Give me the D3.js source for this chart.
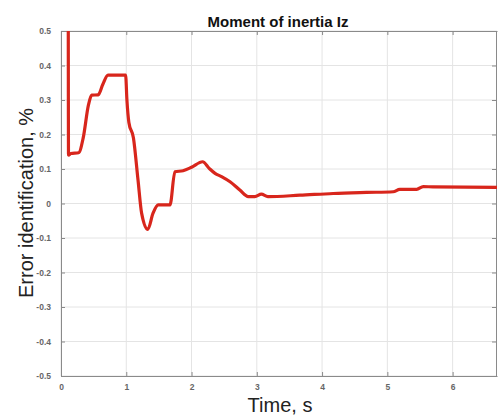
<!DOCTYPE html>
<html><head><meta charset="utf-8">
<script src="https://cdn.jsdelivr.net/npm/d3@7"></script>
<style>body{margin:0;background:#fff}svg{display:block}</style>
</head><body>
<script>
const timeValues = [0.11, 0.115, 0.15, 0.27, 0.34, 0.42, 0.47, 0.57, 0.64, 0.72, 0.99, 1.01, 1.04, 1.11, 1.18, 1.235, 1.33, 1.41, 1.49, 1.67, 1.745, 1.87, 2.0, 2.17, 2.27, 2.36, 2.46, 2.59, 2.74, 2.87, 2.97, 3.07, 3.17, 3.66, 4.17, 4.68, 5.09, 5.19, 5.45, 5.55, 5.70, 6.68];
const errorValues = [0.8, 0.14, 0.145, 0.147, 0.19, 0.285, 0.314, 0.315, 0.345, 0.372, 0.372, 0.3, 0.235, 0.19, 0.068, -0.028, -0.075, -0.028, -0.004, -0.004, 0.092, 0.095, 0.105, 0.121, 0.102, 0.0875, 0.078, 0.063, 0.039, 0.02, 0.02, 0.027, 0.02, 0.024, 0.029, 0.032, 0.034, 0.041, 0.041, 0.049, 0.048, 0.047];
const xTicks = [0, 1, 2, 3, 4, 5, 6];
const yTicks = [-0.5, -0.4, -0.3, -0.2, -0.1, 0, 0.1, 0.2, 0.3, 0.4, 0.5];
const titleText = "Moment of inertia Iz";
const xLabel = "Time, s";
const yLabel = "Error identification, %";

const W = 498, H = 416;
const m = {left: 61, right: 1, top: 31, bottom: 40};
const svg = d3.select("body").append("svg").attr("width", W).attr("height", H);
const x = d3.scaleLinear().domain([0, 6.68]).range([m.left, W - m.right]);
const y = d3.scaleLinear().domain([-0.5, 0.5]).range([H - m.bottom, m.top]);

// grid
svg.append("g").selectAll("line").data(xTicks).join("line")
  .attr("x1", d => x(d)).attr("x2", d => x(d)).attr("y1", y(-0.5)).attr("y2", y(0.5))
  .attr("stroke", "#e4e4e4").attr("stroke-width", 1);
svg.append("g").selectAll("line").data(yTicks).join("line")
  .attr("y1", d => y(d)).attr("y2", d => y(d)).attr("x1", x(0)).attr("x2", x(6.68))
  .attr("stroke", "#e4e4e4").attr("stroke-width", 1);

// axes
const axCol = "#8a8a8a";
const yFmt = d => d === 0 ? "0" : d3.format(".1f")(d).replace("\u2212", "-");
const xb = svg.append("g").attr("transform", `translate(0,${y(-0.5)})`)
  .call(d3.axisBottom(x).tickValues(xTicks).tickFormat(d3.format("d")).tickSizeInner(-4).tickSizeOuter(0).tickPadding(8));
const xt = svg.append("g").attr("transform", `translate(0,${y(0.5)})`)
  .call(d3.axisTop(x).tickValues(xTicks).tickFormat("").tickSizeInner(-4).tickSizeOuter(0));
const yl = svg.append("g").attr("transform", `translate(${x(0)},0)`)
  .call(d3.axisLeft(y).tickValues(yTicks).tickFormat(yFmt).tickSizeInner(-4).tickSizeOuter(0).tickPadding(10));
const yr = svg.append("g").attr("transform", `translate(${x(6.68) - 1},0)`)
  .call(d3.axisRight(y).tickValues(yTicks).tickFormat("").tickSizeInner(-4).tickSizeOuter(0));
[xb, xt, yl, yr].forEach(g => {
  g.selectAll("path").attr("stroke", axCol);
  g.selectAll("line").attr("stroke", axCol);
  g.selectAll("text").attr("fill", "#666").attr("font-family", "Liberation Sans, Arial, sans-serif").attr("font-size", 8.5).attr("font-weight", "bold");
});
xb.select(".tick:first-of-type line").remove();

// clip
svg.append("clipPath").attr("id", "clip").append("rect")
  .attr("x", x(0)).attr("y", y(0.5)).attr("width", x(6.68) - x(0)).attr("height", y(-0.5) - y(0.5));

const pts = timeValues.map((t, i) => [t, errorValues[i]]);
svg.append("path").datum(pts).attr("clip-path", "url(#clip)")
  .attr("d", d3.line().x(d => x(d[0])).y(d => y(d[1])).curve(d3.curveMonotoneX))
  .attr("fill", "none").attr("stroke", "#d8261c").attr("stroke-width", 3.2)
  .attr("stroke-linejoin", "round").attr("stroke-linecap", "round");

// texts
svg.append("text").attr("x", (x(0) + x(6.68)) / 2 - 1).attr("y", 27).attr("text-anchor", "middle")
  .attr("font-family", "Liberation Sans, Arial, sans-serif").attr("font-weight", "bold").attr("font-size", 15)
  .attr("fill", "#111").text(titleText);
svg.append("text").attr("x", 280).attr("y", 412).attr("text-anchor", "middle")
  .attr("font-family", "Liberation Sans, Arial, sans-serif").attr("font-size", 20)
  .attr("fill", "#222").text(xLabel);
svg.append("text").attr("transform", "translate(33,203) rotate(-90)").attr("text-anchor", "middle")
  .attr("font-family", "Liberation Sans, Arial, sans-serif").attr("font-size", 20)
  .attr("fill", "#222").text(yLabel);
</script>
</body></html>
